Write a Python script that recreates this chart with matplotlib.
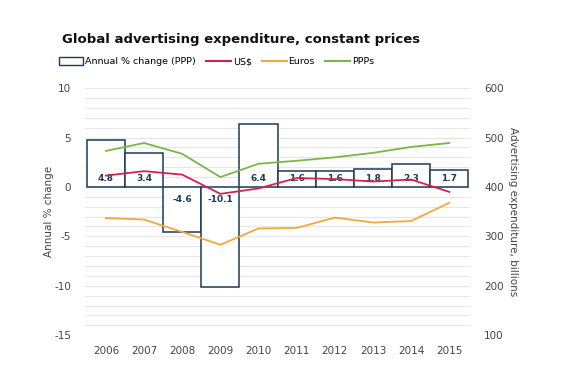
import numpy as np
import matplotlib
matplotlib.use("Agg")
import matplotlib.pyplot as plt
from matplotlib.patches import Patch
from matplotlib.lines import Line2D

# ---- data ----
years = ['2006', '2007', '2008', '2009', '2010', '2011', '2012', '2013', '2014', '2015']
pct_change = [4.8, 3.4, -4.6, -10.1, 6.4, 1.6, 1.6, 1.8, 2.3, 1.7]
usd = [423, 432, 425, 386, 397, 418, 416, 411, 415, 390]
euros = [337, 334, 309, 283, 316, 317, 338, 328, 331, 368]
ppps = [473, 489, 467, 420, 447, 453, 460, 469, 481, 489]

navy = '#1b3a56'
red = '#d1234f'
orange = '#f2a93b'
green = '#7ab648'

plt.rcParams['font.family'] = ['DejaVu Sans']
plt.rcParams['axes.unicode_minus'] = False

fig = plt.figure(figsize=(5.7, 3.8), dpi=100)
ax = fig.add_axes([0.149, 0.118, 0.676, 0.650])
x = np.arange(len(years))

# bars
ax.bar(x, pct_change, width=1.0, facecolor='white', edgecolor=navy, linewidth=1.1, zorder=2)
for xi, v in zip(x, pct_change):
    ypos = 0.9 if v > 0 else -1.3
    ax.text(xi, ypos, '%.1f' % v, ha='center', va='center', fontsize=6.5,
            fontweight='bold', color=navy, zorder=5)

ax.set_ylim(-15, 10)
ax.set_xlim(-0.55, 9.55)
ax.set_yticks(np.arange(-15, 11, 1), minor=True)
ax.set_yticks([-15, -10, -5, 0, 5, 10])
ax.grid(axis='y', which='both', color='#e6e6e6', linewidth=0.8, zorder=0)
ax.set_axisbelow(True)
ax.set_xticks(x)
ax.set_xticklabels(years)
ax.tick_params(length=0, which='both', labelsize=7.5, colors='#444444')
ax.tick_params(axis='y', pad=10)
ax.tick_params(axis='x', pad=8)
for s in ax.spines.values():
    s.set_visible(False)
ax.set_ylabel('Annual % change', fontsize=7.5, color='#444444', labelpad=0)

# lines on the right axis
ax2 = ax.twinx()
ax2.plot(x, usd, color=red, linewidth=1.3, zorder=3)
ax2.plot(x, euros, color=orange, linewidth=1.3, zorder=3)
ax2.plot(x, ppps, color=green, linewidth=1.3, zorder=3)
ax2.set_ylim(100, 600)
ax2.set_yticks([100, 200, 300, 400, 500, 600])
ax2.tick_params(length=0, labelsize=7.5, colors='#444444', pad=10)
for s in ax2.spines.values():
    s.set_visible(False)
ax2.set_ylabel('Advertising expenditure, billions', fontsize=7.5, color='#444444',
               rotation=-90, labelpad=10)

fig.text(0.109, 0.895, 'Global advertising expenditure, constant prices',
         fontsize=9.5, fontweight='bold', color='#111111', va='center')

handles = [Patch(facecolor='white', edgecolor=navy, linewidth=1.0),
           Line2D([], [], color=red, linewidth=1.5),
           Line2D([], [], color=orange, linewidth=1.5),
           Line2D([], [], color=green, linewidth=1.5)]
labels = ['Annual % change (PPP)', 'US$', 'Euros', 'PPPs']
fig.legend(handles, labels, loc='upper left', bbox_to_anchor=(0.088, 0.872), ncol=4,
           frameon=False, fontsize=6.8, handlelength=2.6, handletextpad=0.2,
           columnspacing=1.1, handleheight=0.9)

fig.savefig('out.png', dpi=100)
